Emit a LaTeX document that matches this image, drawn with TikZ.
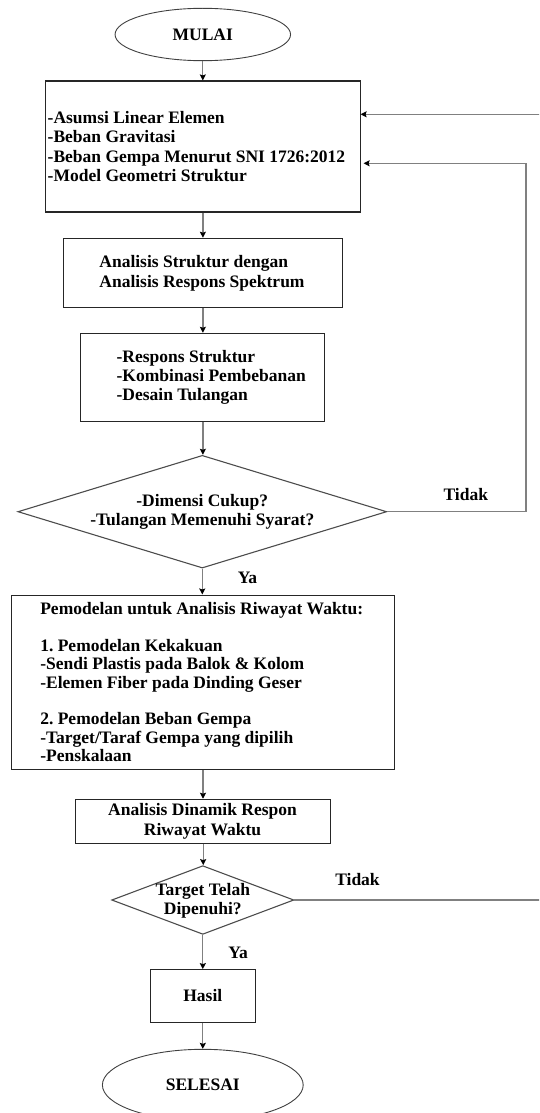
\documentclass[tikz,border=0pt]{standalone}
\usepackage{fontspec}
\setmainfont{Liberation Serif}
\usetikzlibrary{shapes.geometric,arrows.meta,calc}
\frenchspacing
\begin{document}
\begin{tikzpicture}[x=1pt,y=-1pt,
  font=\bfseries\fontsize{17.5}{19.3}\selectfont,
  frame/.style={draw=black!85, line width=1.1pt, inner sep=0pt},
  boxnode/.style={frame, rectangle},
  ellnode/.style={draw=black!75, line width=0.9pt, inner sep=0pt, ellipse},
  dianode/.style={draw=black!70, line width=1.1pt, inner sep=0pt, diamond},
  txt/.style={inner sep=0pt, align=left, anchor=west},
  ctxt/.style={inner sep=0pt, align=center},
  lbl/.style={inner sep=0pt},
  conn/.style={draw=black!50, line width=1.3pt, -{Stealth[length=6pt,width=6pt,inset=1pt,color=black]}}
]
\useasboundingbox (0,0) rectangle (539,1113);
\clip (0,0) rectangle (539,1113);

% nodes
\node[ellnode, minimum width=175.5pt, minimum height=52.4pt] (start) at (202.8,34.5) {MULAI};

\node[boxnode, minimum width=314.3pt, minimum height=131pt] (b1) at (202.9,146.5) {};
\node[txt] (b1t) at ([xshift=2.3pt]b1.west) {-Asumsi Linear Elemen\\-Beban Gravitasi\\-Beban Gempa Menurut SNI 1726:2012\\-Model Geometri Struktur};

\node[boxnode, minimum width=279.7pt, minimum height=69.4pt] (b2) at (202.9,273) {};
\node[txt, font=\bfseries\fontsize{17.5}{20.3}\selectfont] (b2t) at ([xshift=36.7pt]b2.west) {Analisis Struktur dengan\\Analisis Respons Spektrum};

\node[boxnode, minimum width=244pt, minimum height=87.7pt] (b3) at (202.9,377.2) {};
\node[txt, font=\bfseries\fontsize{17.5}{18.7}\selectfont] (b3t) at ([xshift=36.1pt]b3.west) {-Respons Struktur\\-Kombinasi Pembebanan\\-Desain Tulangan};

\node[dianode, minimum width=368.8pt, minimum height=112.7pt] (d1) at (202.3,511.7) {};
\node[ctxt, font=\bfseries\fontsize{17.5}{19}\selectfont] (d1t) at (202.3,512) {-Dimensi Cukup?\\-Tulangan Memenuhi Syarat?};

\node[boxnode, minimum width=383.3pt, minimum height=174.3pt] (b4) at (203,682.2) {};
\node[txt, font=\bfseries\fontsize{17.5}{18.3}\selectfont] (b4t) at ([xshift=29.3pt]b4.west) {Pemodelan untuk Analisis Riwayat Waktu:\\[18.3pt]1. Pemodelan Kekakuan\\-Sendi Plastis pada Balok \& Kolom\\-Elemen Fiber pada Dinding Geser\\[18.3pt]2. Pemodelan Beban Gempa\\-Target/Taraf Gempa yang dipilih\\-Penskalaan};

\node[boxnode, minimum width=255pt, minimum height=44pt] (b5) at (203.2,821.3) {};
\node[ctxt, font=\bfseries\fontsize{17.5}{20.6}\selectfont] (b5t) at (202.5,821.5) {Analisis Dinamik Respon\\Riwayat Waktu};

\node[dianode, minimum width=182.2pt, minimum height=68.7pt] (d2) at (202.8,900) {};
\node[ctxt, font=\bfseries\fontsize{17.5}{18.7}\selectfont] (d2t) at (202.8,900.5) {Target Telah\\Dipenuhi?};

\node[boxnode, minimum width=105.2pt, minimum height=52.7pt] (hasil) at (202.8,996) {Hasil};

\node[ellnode, minimum width=200.8pt, minimum height=71.4pt] (stop) at (202.8,1085) {SELESAI};

% labels
\node[lbl] (tidak1) at (465.8,495) {Tidak};
\node[lbl] (ya1) at (247.5,578.3) {Ya};
\node[lbl] (tidak2) at (357.5,879.3) {Tidak};
\node[lbl] (ya2) at (238.2,953.3) {Ya};

% helper coordinates for feedback lines
\coordinate (r1) at (526,0);
\coordinate (r2) at (560,0);

% main flow
\draw[conn] (start.south) -- (start.south |- b1.north);
\draw[conn] (b1.south) -- (b1.south |- b2.north);
\draw[conn] (b2.south) -- (b2.south |- b3.north);
\draw[conn] (b3.south) -- (b3.south |- d1.north);
\draw[conn] (d1.south) -- (d1.south |- b4.north);
\draw[conn] (b4.south) -- (b4.south |- b5.north);
\draw[conn] (b5.south) -- (b5.south |- d2.north);
\draw[conn] (d2.south) -- (d2.south |- hasil.north);
\draw[conn] (hasil.south) -- (hasil.south |- stop.north);

% feedback loops
\draw[conn, shorten >=3pt] (d1.east) -- (d1.east -| r1) |- ([yshift=-16.8pt]b1.east);
\draw[conn] (d2.east) -- (d2.east -| r2) |- ([yshift=32.2pt]b1.east);
\end{tikzpicture}
\end{document}
